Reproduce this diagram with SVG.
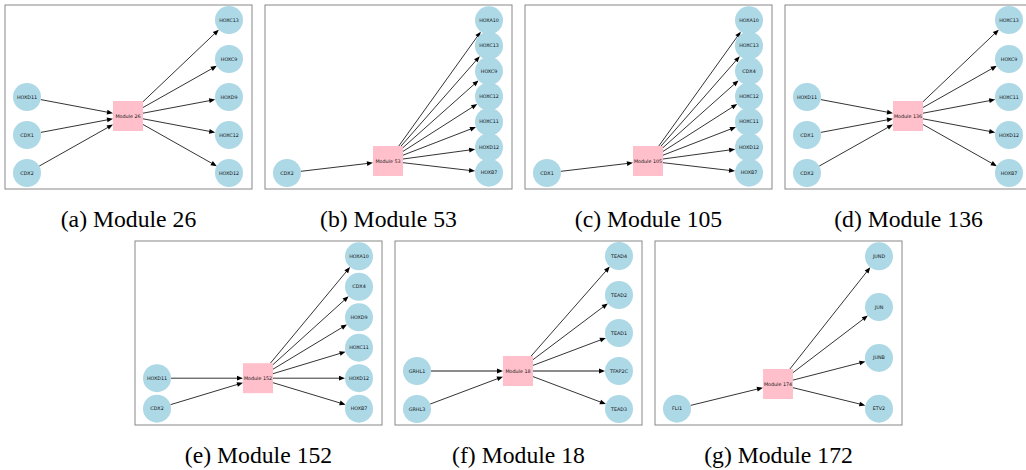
<svg xmlns="http://www.w3.org/2000/svg" width="1026" height="470" viewBox="0 0 1026 470">
<style>
.frame{fill:#fff;stroke:#888;stroke-width:1}
.e{stroke:#000;stroke-width:0.8;fill:none}
.e2{stroke:#8c8c8c;stroke-width:1.8;fill:none}
.n circle{fill:#add8e6}
.m rect{fill:#ffc0cb}
.n text,.m text{font-family:"DejaVu Sans",sans-serif;font-size:4.8px;fill:#111;text-anchor:middle;dominant-baseline:central}
.cap{font-family:"Liberation Serif","Times New Roman",serif;font-size:23.7px;fill:#000;text-anchor:middle}
</style>
<defs>
<marker id="ah" markerUnits="userSpaceOnUse" markerWidth="6" markerHeight="4.8" viewBox="0 0 6 4.8" refX="1" refY="2.4" orient="auto" overflow="visible"><path d="M0,0 L6,2.4 L0,4.8 z" fill="#000"/></marker>
</defs>
<rect width="1026" height="470" fill="#fff"/>

<!-- Panel a -->
<g id="panel-a">
<rect class="frame" x="5" y="5" width="247" height="184"/>
<g id="a-edges">
<line class="e" x1="40.8" y1="99.6" x2="108.1" y2="112.3" marker-end="url(#ah)"/>
<line class="e" x1="40.8" y1="132.4" x2="108.1" y2="119.7" marker-end="url(#ah)"/>
<line class="e" x1="39.2" y1="166.1" x2="108.6" y2="127.0" marker-end="url(#ah)"/>
<line class="e" x1="143" y1="101.7" x2="215.2" y2="33.1" marker-end="url(#ah)"/>
<line class="e" x1="143" y1="107.5" x2="212.5" y2="68.3" marker-end="url(#ah)"/>
<line class="e" x1="143" y1="113.2" x2="210.3" y2="100.5" marker-end="url(#ah)"/>
<line class="e" x1="143" y1="118.8" x2="210.3" y2="131.5" marker-end="url(#ah)"/>
<line class="e" x1="143" y1="124.5" x2="212.5" y2="163.7" marker-end="url(#ah)"/>
</g>
<g id="a-HOXD11" class="n"><circle cx="27" cy="97" r="14"/><text x="27" y="97">HOXD11</text></g>
<g id="a-CDX1" class="n"><circle cx="27" cy="135" r="14"/><text x="27" y="135">CDX1</text></g>
<g id="a-CDX2" class="n"><circle cx="27" cy="173" r="14"/><text x="27" y="173">CDX2</text></g>
<g id="a-Module26" class="m"><rect x="113" y="101" width="30" height="30"/><text x="128" y="116">Module 26</text></g>
<g id="a-HOXC13" class="n"><circle cx="229" cy="20" r="14"/><text x="229" y="20">HOXC13</text></g>
<g id="a-HOXC9" class="n"><circle cx="229" cy="59" r="14"/><text x="229" y="59">HOXC9</text></g>
<g id="a-HOXD9" class="n"><circle cx="229" cy="97" r="14"/><text x="229" y="97">HOXD9</text></g>
<g id="a-HOXC12" class="n"><circle cx="229" cy="135" r="14"/><text x="229" y="135">HOXC12</text></g>
<g id="a-HOXD12" class="n"><circle cx="229" cy="173" r="14"/><text x="229" y="173">HOXD12</text></g>
<text class="cap" x="128.5" y="227">(a) Module 26</text>
</g>

<!-- Panel b -->
<g id="panel-b" transform="translate(260,0)">
<rect class="frame" x="5" y="5" width="247" height="184"/>
<g id="b-edges">
<line class="e" x1="40.9" y1="171.3" x2="108.0" y2="163.4" marker-end="url(#ah)"/>
<line class="e" x1="138.8" y1="146" x2="217.9" y2="35.7" marker-end="url(#ah)"/>
<line class="e" x1="141.1" y1="146" x2="216.5" y2="60.0" marker-end="url(#ah)"/>
<line class="e" x1="143" y1="147.6" x2="214.8" y2="83.7" marker-end="url(#ah)"/>
<line class="e" x1="143" y1="151.4" x2="213.0" y2="106.7" marker-end="url(#ah)"/>
<line class="e" x1="143" y1="155.2" x2="211.3" y2="128.8" marker-end="url(#ah)"/>
<line class="e" x1="143" y1="159.0" x2="210.2" y2="149.9" marker-end="url(#ah)"/>
<line class="e" x1="143" y1="162.7" x2="210.1" y2="170.5" marker-end="url(#ah)"/>
</g>
<g id="b-CDX2" class="n"><circle cx="27" cy="173" r="14"/><text x="27" y="173">CDX2</text></g>
<g id="b-Module53" class="m"><rect x="113" y="146" width="30" height="30"/><text x="128" y="161">Module 53</text></g>
<g id="b-HOXA10" class="n"><circle cx="229" cy="20.3" r="14"/><text x="229" y="20.3">HOXA10</text></g>
<g id="b-HOXC13" class="n"><circle cx="229" cy="45.7" r="14"/><text x="229" y="45.7">HOXC13</text></g>
<g id="b-HOXC9" class="n"><circle cx="229" cy="71.1" r="14"/><text x="229" y="71.1">HOXC9</text></g>
<g id="b-HOXC12" class="n"><circle cx="229" cy="96.5" r="14"/><text x="229" y="96.5">HOXC12</text></g>
<g id="b-HOXC11" class="n"><circle cx="229" cy="121.9" r="14"/><text x="229" y="121.9">HOXC11</text></g>
<g id="b-HOXD12" class="n"><circle cx="229" cy="147.3" r="14"/><text x="229" y="147.3">HOXD12</text></g>
<g id="b-HOXB7" class="n"><circle cx="229" cy="172.7" r="14"/><text x="229" y="172.7">HOXB7</text></g>
<text class="cap" x="128.5" y="227">(b) Module 53</text>
</g>

<!-- Panel c -->
<g id="panel-c" transform="translate(520,0)">
<rect class="frame" x="5" y="5" width="247" height="184"/>
<g id="c-edges">
<line class="e" x1="40.9" y1="171.3" x2="108.0" y2="163.4" marker-end="url(#ah)"/>
<line class="e" x1="138.8" y1="146" x2="217.9" y2="35.7" marker-end="url(#ah)"/>
<line class="e" x1="141.1" y1="146" x2="216.5" y2="60.0" marker-end="url(#ah)"/>
<line class="e" x1="143" y1="147.6" x2="214.8" y2="83.7" marker-end="url(#ah)"/>
<line class="e" x1="143" y1="151.4" x2="213.0" y2="106.7" marker-end="url(#ah)"/>
<line class="e" x1="143" y1="155.2" x2="211.3" y2="128.8" marker-end="url(#ah)"/>
<line class="e" x1="143" y1="159.0" x2="210.2" y2="149.9" marker-end="url(#ah)"/>
<line class="e" x1="143" y1="162.7" x2="210.1" y2="170.5" marker-end="url(#ah)"/>
</g>
<g id="c-CDX1" class="n"><circle cx="27" cy="173" r="14"/><text x="27" y="173">CDX1</text></g>
<g id="c-Module105" class="m"><rect x="113" y="146" width="30" height="30"/><text x="128" y="161">Module 105</text></g>
<g id="c-HOXA10" class="n"><circle cx="229" cy="20.3" r="14"/><text x="229" y="20.3">HOXA10</text></g>
<g id="c-HOXC13" class="n"><circle cx="229" cy="45.7" r="14"/><text x="229" y="45.7">HOXC13</text></g>
<g id="c-CDX4" class="n"><circle cx="229" cy="71.1" r="14"/><text x="229" y="71.1">CDX4</text></g>
<g id="c-HOXC12" class="n"><circle cx="229" cy="96.5" r="14"/><text x="229" y="96.5">HOXC12</text></g>
<g id="c-HOXC11" class="n"><circle cx="229" cy="121.9" r="14"/><text x="229" y="121.9">HOXC11</text></g>
<g id="c-HOXD12" class="n"><circle cx="229" cy="147.3" r="14"/><text x="229" y="147.3">HOXD12</text></g>
<g id="c-HOXB7" class="n"><circle cx="229" cy="172.7" r="14"/><text x="229" y="172.7">HOXB7</text></g>
<text class="cap" x="128.5" y="227">(c) Module 105</text>
</g>

<!-- Panel d -->
<g id="panel-d" transform="translate(780,0)">
<rect class="frame" x="5" y="5" width="247" height="184"/>
<g id="d-edges">
<line class="e" x1="40.8" y1="99.6" x2="108.1" y2="112.3" marker-end="url(#ah)"/>
<line class="e" x1="40.8" y1="132.4" x2="108.1" y2="119.7" marker-end="url(#ah)"/>
<line class="e" x1="39.2" y1="166.1" x2="108.6" y2="127.0" marker-end="url(#ah)"/>
<line class="e" x1="143" y1="101.7" x2="215.2" y2="33.1" marker-end="url(#ah)"/>
<line class="e" x1="143" y1="107.5" x2="212.5" y2="68.3" marker-end="url(#ah)"/>
<line class="e" x1="143" y1="113.2" x2="210.3" y2="100.5" marker-end="url(#ah)"/>
<line class="e" x1="143" y1="118.8" x2="210.3" y2="131.5" marker-end="url(#ah)"/>
<line class="e" x1="143" y1="124.5" x2="212.5" y2="163.7" marker-end="url(#ah)"/>
</g>
<g id="d-HOXD11" class="n"><circle cx="27" cy="97" r="14"/><text x="27" y="97">HOXD11</text></g>
<g id="d-CDX1" class="n"><circle cx="27" cy="135" r="14"/><text x="27" y="135">CDX1</text></g>
<g id="d-CDX2" class="n"><circle cx="27" cy="173" r="14"/><text x="27" y="173">CDX2</text></g>
<g id="d-Module136" class="m"><rect x="113" y="101" width="30" height="30"/><text x="128" y="116">Module 136</text></g>
<g id="d-HOXC13" class="n"><circle cx="229" cy="20" r="14"/><text x="229" y="20">HOXC13</text></g>
<g id="d-HOXC9" class="n"><circle cx="229" cy="59" r="14"/><text x="229" y="59">HOXC9</text></g>
<g id="d-HOXC11" class="n"><circle cx="229" cy="97" r="14"/><text x="229" y="97">HOXC11</text></g>
<g id="d-HOXD12" class="n"><circle cx="229" cy="135" r="14"/><text x="229" y="135">HOXD12</text></g>
<g id="d-HOXB7" class="n"><circle cx="229" cy="173" r="14"/><text x="229" y="173">HOXB7</text></g>
<text class="cap" x="128.5" y="227">(d) Module 136</text>
</g>

<!-- Panel e -->
<g id="panel-e" transform="translate(130,236)">
<rect class="frame" x="5" y="5" width="247" height="184"/>
<g id="e-edges">
<line class="e" x1="41" y1="142.2" x2="108" y2="142.2" marker-end="url(#ah)"/>
<line class="e" x1="40.4" y1="168.7" x2="108.2" y2="148.2" marker-end="url(#ah)"/>
<line class="e" x1="140.4" y1="127.2" x2="216.9" y2="34.9" marker-end="url(#ah)"/>
<line class="e" x1="143" y1="128.6" x2="214.9" y2="63.6" marker-end="url(#ah)"/>
<line class="e" x1="143" y1="133.2" x2="212.7" y2="91.1" marker-end="url(#ah)"/>
<line class="e" x1="143" y1="137.7" x2="210.8" y2="117.2" marker-end="url(#ah)"/>
<line class="e" x1="143" y1="142.2" x2="210" y2="142.2" marker-end="url(#ah)"/>
<line class="e" x1="143" y1="146.7" x2="210.8" y2="167.2" marker-end="url(#ah)"/>
</g>
<g id="e-HOXD11" class="n"><circle cx="27" cy="142.2" r="14"/><text x="27" y="142.2">HOXD11</text></g>
<g id="e-CDX2" class="n"><circle cx="27" cy="172.7" r="14"/><text x="27" y="172.7">CDX2</text></g>
<g id="e-Module152" class="m"><rect x="113" y="127.2" width="30" height="30"/><text x="128" y="142.2">Module 152</text></g>
<g id="e-HOXA10" class="n"><circle cx="229" cy="20.3" r="14"/><text x="229" y="20.3">HOXA10</text></g>
<g id="e-CDX4" class="n"><circle cx="229" cy="50.8" r="14"/><text x="229" y="50.8">CDX4</text></g>
<g id="e-HOXD9" class="n"><circle cx="229" cy="81.3" r="14"/><text x="229" y="81.3">HOXD9</text></g>
<g id="e-HOXC11" class="n"><circle cx="229" cy="111.7" r="14"/><text x="229" y="111.7">HOXC11</text></g>
<g id="e-HOXD12" class="n"><circle cx="229" cy="142.2" r="14"/><text x="229" y="142.2">HOXD12</text></g>
<g id="e-HOXB7" class="n"><circle cx="229" cy="172.7" r="14"/><text x="229" y="172.7">HOXB7</text></g>
<text class="cap" x="128.5" y="227">(e) Module 152</text>
</g>

<!-- Panel f -->
<g id="panel-f" transform="translate(390,236)">
<rect class="frame" x="5" y="5" width="247" height="184"/>
<g id="f-edges">
<line class="e2" x1="41" y1="135" x2="108" y2="135" marker-end="url(#ah)"/>
<line class="e" x1="40.1" y1="168.1" x2="108.3" y2="142.4" marker-end="url(#ah)"/>
<line class="e" x1="141.2" y1="120" x2="216.5" y2="34.3" marker-end="url(#ah)"/>
<line class="e" x1="143" y1="123.7" x2="213.8" y2="70.4" marker-end="url(#ah)"/>
<line class="e" x1="143" y1="129.4" x2="211.2" y2="103.7" marker-end="url(#ah)"/>
<line class="e2" x1="143" y1="135" x2="210" y2="135" marker-end="url(#ah)"/>
<line class="e" x1="143" y1="140.6" x2="211.2" y2="166.3" marker-end="url(#ah)"/>
</g>
<g id="f-GRHL1" class="n"><circle cx="27" cy="135" r="14"/><text x="27" y="135">GRHL1</text></g>
<g id="f-GRHL3" class="n"><circle cx="27" cy="173" r="14"/><text x="27" y="173">GRHL3</text></g>
<g id="f-Module18" class="m"><rect x="113" y="120" width="30" height="30"/><text x="128" y="135">Module 18</text></g>
<g id="f-TEAD4" class="n"><circle cx="229" cy="20" r="14"/><text x="229" y="20">TEAD4</text></g>
<g id="f-TEAD2" class="n"><circle cx="229" cy="59" r="14"/><text x="229" y="59">TEAD2</text></g>
<g id="f-TEAD1" class="n"><circle cx="229" cy="97" r="14"/><text x="229" y="97">TEAD1</text></g>
<g id="f-TFAP2C" class="n"><circle cx="229" cy="135" r="14"/><text x="229" y="135">TFAP2C</text></g>
<g id="f-TEAD3" class="n"><circle cx="229" cy="173" r="14"/><text x="229" y="173">TEAD3</text></g>
<text class="cap" x="128.5" y="227">(f) Module 18</text>
</g>

<!-- Panel g -->
<g id="panel-g" transform="translate(650,236)">
<rect class="frame" x="5" y="5" width="247" height="184"/>
<g id="g-edges">
<line class="e" x1="40.6" y1="169.4" x2="108.1" y2="152.9" marker-end="url(#ah)"/>
<line class="e" x1="139.9" y1="133" x2="217.2" y2="35.2" marker-end="url(#ah)"/>
<line class="e" x1="143" y1="136.6" x2="213.9" y2="82.6" marker-end="url(#ah)"/>
<line class="e" x1="143" y1="144.1" x2="210.6" y2="126.7" marker-end="url(#ah)"/>
<line class="e" x1="143" y1="151.7" x2="210.5" y2="168.2" marker-end="url(#ah)"/>
</g>
<g id="g-FLI1" class="n"><circle cx="27" cy="172.7" r="14"/><text x="27" y="172.7">FLI1</text></g>
<g id="g-Module174" class="m"><rect x="113" y="133" width="30" height="30"/><text x="128" y="148">Module 174</text></g>
<g id="g-JUND" class="n"><circle cx="229" cy="20.3" r="14"/><text x="229" y="20.3">JUND</text></g>
<g id="g-JUN" class="n"><circle cx="229" cy="71.1" r="14"/><text x="229" y="71.1">JUN</text></g>
<g id="g-JUNB" class="n"><circle cx="229" cy="121.9" r="14"/><text x="229" y="121.9">JUNB</text></g>
<g id="g-ETV2" class="n"><circle cx="229" cy="172.7" r="14"/><text x="229" y="172.7">ETV2</text></g>
<text class="cap" x="128.5" y="227">(g) Module 172</text>
</g>
</svg>
